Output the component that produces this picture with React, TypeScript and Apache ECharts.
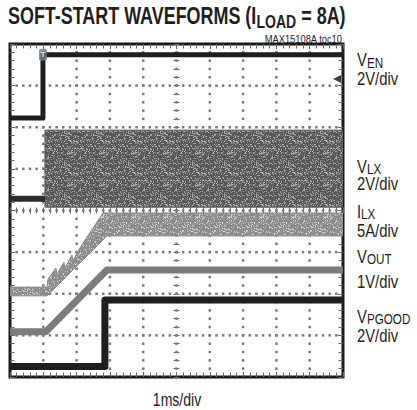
import React, { useEffect, useRef } from 'react';
import * as echarts from 'echarts';

// Horizontal: divisions from screen centre (1ms/div). Vertical: divisions from screen centre.
const venX = [-5, -4.01, -4.01, 5];
const venY = [2.22, 2.22, 3.74, 3.74];
const vlxLowX = [-5, -3.95];
const vlxLowY = [0.28, 0.28];
const vlxBandX = [-3.95, 5];
const vlxBandTop = [1.93, 1.93];
const vlxBandBottom = [0.08, 0.08];
const ilxX = [-5, -3.89, -3.86, -3.62, -3.59, -3.38, -3.35, -3.14, -3.11, -2.9, -2.21, -2.09, 5];
const ilxTop = [-1.84, -1.84, -1.65, -1.38, -1.53, -1.24, -1.38, -1.07, -1.21, -0.9, -0.06, -0.06, -0.06];
const ilxBottom = [-2.05, -2.05, -2.03, -1.84, -1.81, -1.65, -1.62, -1.45, -1.43, -1.26, -0.71, -0.61, -0.61];
const voutX = [-5, -3.92, -2.09, 5];
const voutY = [-2.91, -2.91, -1.43, -1.43];
const pgoodX = [-5, -2.15, -2.15, 5];
const pgoodY = [-3.75, -3.75, -2.15, -2.15];
const trigMark = [[-4.01, 3.74]];
const levelMark = [[4.82, 3.16]];

// graticule divisions
const xDivs = [-4, -3, -2, -1, 0, 1, 2, 3, 4];
const yDivs = [-3, -2, -1, 0, 1, 2, 3];
const minorStep = 0.2;

const traceNames = ['V', 'V', 'I', 'V', 'V'];
const traceSubs = ['EN', 'LX', 'LX', 'OUT', 'PGOOD'];
const traceScales = ['2V/div', '2V/div', '5A/div', '1V/div', '2V/div'];
const titleMain = 'SOFT-START WAVEFORMS (I';
const titleSub = 'LOAD';
const titleEnd = ' = 8A)';
const noteText = 'MAX15108A toc10';
const timeScale = '1ms/div';

const FAM = '"Liberation Sans", Arial, Helvetica, sans-serif';

const pairs = (xs: number[], ys: number[]) => xs.map((x, i) => [x, ys[i]]);

// speckle texture (style only) for the switching band
function speckleTile(base: number, light: number, ratio: number): string {
  const c = document.createElement('canvas');
  const n = 32;
  c.width = n; c.height = n;
  const g = c.getContext('2d')!;
  const img = g.createImageData(n, n);
  for (let j = 0; j < n; j++) {
    for (let i = 0; i < n; i++) {
      const h = Math.sin(i * 12.9898 + j * 78.233) * 43758.5453;
      const f = h - Math.floor(h);
      const v = f < ratio ? light + Math.round(f / ratio * 60) : base;
      const k = (j * n + i) * 4;
      img.data[k] = v; img.data[k + 1] = v; img.data[k + 2] = v; img.data[k + 3] = 255;
    }
  }
  g.putImageData(img, 0, 0);
  return c.toDataURL();
}

// dotted graticule drawn as small squares through the axes' scales
function gridSeries() {
  return {
    type: 'custom',
    silent: true,
    z: 2,
    data: [[0, 0]],
    renderItem: (_p: any, api: any) => {
      const children: any[] = [];
      const dot = (p: number[]) => {
        children.push({
          type: 'rect',
          shape: { x: p[0] - 1.25, y: p[1] - 1.25, width: 2.5, height: 2.5 },
          style: { fill: '#7a7a7a' },
        });
      };
      xDivs.forEach((k) => {
        for (let v = -4 + minorStep; v < 4 - 1e-6; v += minorStep) dot(api.coord([k, v]));
      });
      yDivs.forEach((k) => {
        for (let v = -5 + minorStep; v < 5 - 1e-6; v += minorStep) dot(api.coord([v, k]));
      });
      return { type: 'group', children };
    },
  };
}

function bandSeries(xs: number[], top: number[], bottom: number[], fill: any, stroke: string) {
  return {
    type: 'custom',
    silent: true,
    clip: true,
    z: 3,
    data: [[xs[0], top[0]]],
    renderItem: (_p: any, api: any) => {
      const pts: number[][] = [];
      for (let i = 0; i < xs.length; i++) pts.push(api.coord([xs[i], top[i]]));
      for (let i = xs.length - 1; i >= 0; i--) pts.push(api.coord([xs[i], bottom[i]]));
      return { type: 'polygon', shape: { points: pts }, style: { fill, stroke, lineWidth: 1 } };
    },
  };
}

function lineSeries(data: number[][], width: number, color: string) {
  return {
    type: 'line',
    data,
    symbol: 'none',
    silent: true,
    clip: true,
    z: 4,
    lineStyle: { width, color, join: 'round' },
  };
}

function mkX(pos: 'top' | 'bottom', center: boolean) {
  return {
    type: 'value', min: -5, max: 5, interval: 1, position: pos,
    axisLine: { show: false, onZero: center, onZeroAxisIndex: 0 },
    axisTick: { show: true, inside: true, length: center ? 3 : 5, lineStyle: { color: '#666', width: 1 } },
    minorTick: { show: true, splitNumber: 5, length: center ? 3 : 4.5, lineStyle: { color: '#666', width: 1 } },
    axisLabel: { show: false },
    splitLine: { show: false },
  };
}
function mkY(pos: 'left' | 'right', center: boolean) {
  return {
    type: 'value', min: -4, max: 4, interval: 1, position: pos,
    axisLine: { show: false, onZero: center, onZeroAxisIndex: 0 },
    axisTick: { show: true, inside: true, length: center ? 3 : 5, lineStyle: { color: '#666', width: 1 } },
    minorTick: { show: true, splitNumber: 5, length: center ? 3 : 4.5, lineStyle: { color: '#666', width: 1 } },
    axisLabel: { show: false },
    splitLine: { show: false },
  };
}

export default function App() {
  const ref = useRef<HTMLDivElement>(null);
  useEffect(() => {
    if (!ref.current) return;
    const chart = echarts.init(ref.current, null, { renderer: 'svg' });
    const ctx = document.createElement('canvas').getContext('2d')!;
    const measure = (t: string, font: string) => { ctx.font = font; return ctx.measureText(t).width; };

    const SX = 0.78;
    const graphics: any[] = [];
    const txt = (text: string, x: number, y: number, font: string, align = 'left', sx = SX, fill = '#1e1e1e') =>
      graphics.push({
        type: 'text', x, y, scaleX: sx, silent: true,
        style: { text, x: 0, y: 0, font, fill, textAlign: align, textVerticalAlign: 'middle' },
      });

    const fA = `bold 23px ${FAM}`;
    const fB = `bold 18px ${FAM}`;
    let tx = 8;
    txt(titleMain, tx, 16, fA);
    tx += measure(titleMain, fA) * SX;
    txt(titleSub, tx, 21, fB);
    tx += measure(titleSub, fB) * SX;
    txt(titleEnd, tx, 16, fA);

    txt(noteText, 342, 39, `11px ${FAM}`, 'right', 0.85);

    const nameY = [60, 166.5, 211.5, 256.5, 316.5];
    const scaleY = [78.5, 183.5, 230.5, 281.5, 335.5];
    const fN = `19px ${FAM}`;
    const fS = `15px ${FAM}`;
    traceNames.forEach((n, i) => {
      txt(n, 357, nameY[i], fN);
      const w = measure(n, fN) * SX;
      txt(traceSubs[i], 357 + w, nameY[i] + 2.5, fS);
      txt(traceScales[i], 357, scaleY[i], fN);
    });
    txt(timeScale, 177, 399, `18px ${FAM}`, 'center');

    const vlxFill = { image: speckleTile(88, 130, 0.3), repeat: 'repeat' };
    const ilxFill = { image: speckleTile(140, 165, 0.25), repeat: 'repeat' };

    chart.setOption({
      animation: false,
      backgroundColor: '#fff',
      grid: { left: 10, top: 44, width: 333, height: 333, show: true, borderColor: '#1a1a1a', borderWidth: 3 },
      xAxis: [mkX('bottom', false), mkX('top', false), mkX('bottom', true), mkX('top', true)],
      yAxis: [mkY('left', false), mkY('right', false), mkY('left', true), mkY('right', true)],
      series: [
        gridSeries(),
        bandSeries(vlxBandX, vlxBandTop, vlxBandBottom, vlxFill, '#555'),
        bandSeries(ilxX, ilxTop, ilxBottom, ilxFill, '#8a8a8a'),
        lineSeries(pairs(voutX, voutY), 7, '#7c7c7c'),
        lineSeries(pairs(vlxLowX, vlxLowY), 6, '#2a2a2a'),
        lineSeries(pairs(venX, venY), 5, '#1e1e1e'),
        lineSeries(pairs(pgoodX, pgoodY), 7, '#1e1e1e'),
        {
          type: 'scatter', data: trigMark, symbol: 'roundRect', symbolSize: [8, 12], silent: true, z: 5,
          itemStyle: { color: '#777' },
          label: { show: true, position: 'inside', formatter: 'T', color: '#fff', fontSize: 8, fontWeight: 'bold' },
        },
        {
          type: 'scatter', data: levelMark, symbol: 'triangle', symbolRotate: 90, symbolSize: [8, 8], silent: true, z: 5,
          itemStyle: { color: '#111' },
        },
      ],
      graphic: graphics,
    });
    return () => chart.dispose();
  }, []);
  return <div ref={ref} style={{ position: 'absolute', left: 0, top: 0, width: 417, height: 410, background: '#fff' }} />;
}
